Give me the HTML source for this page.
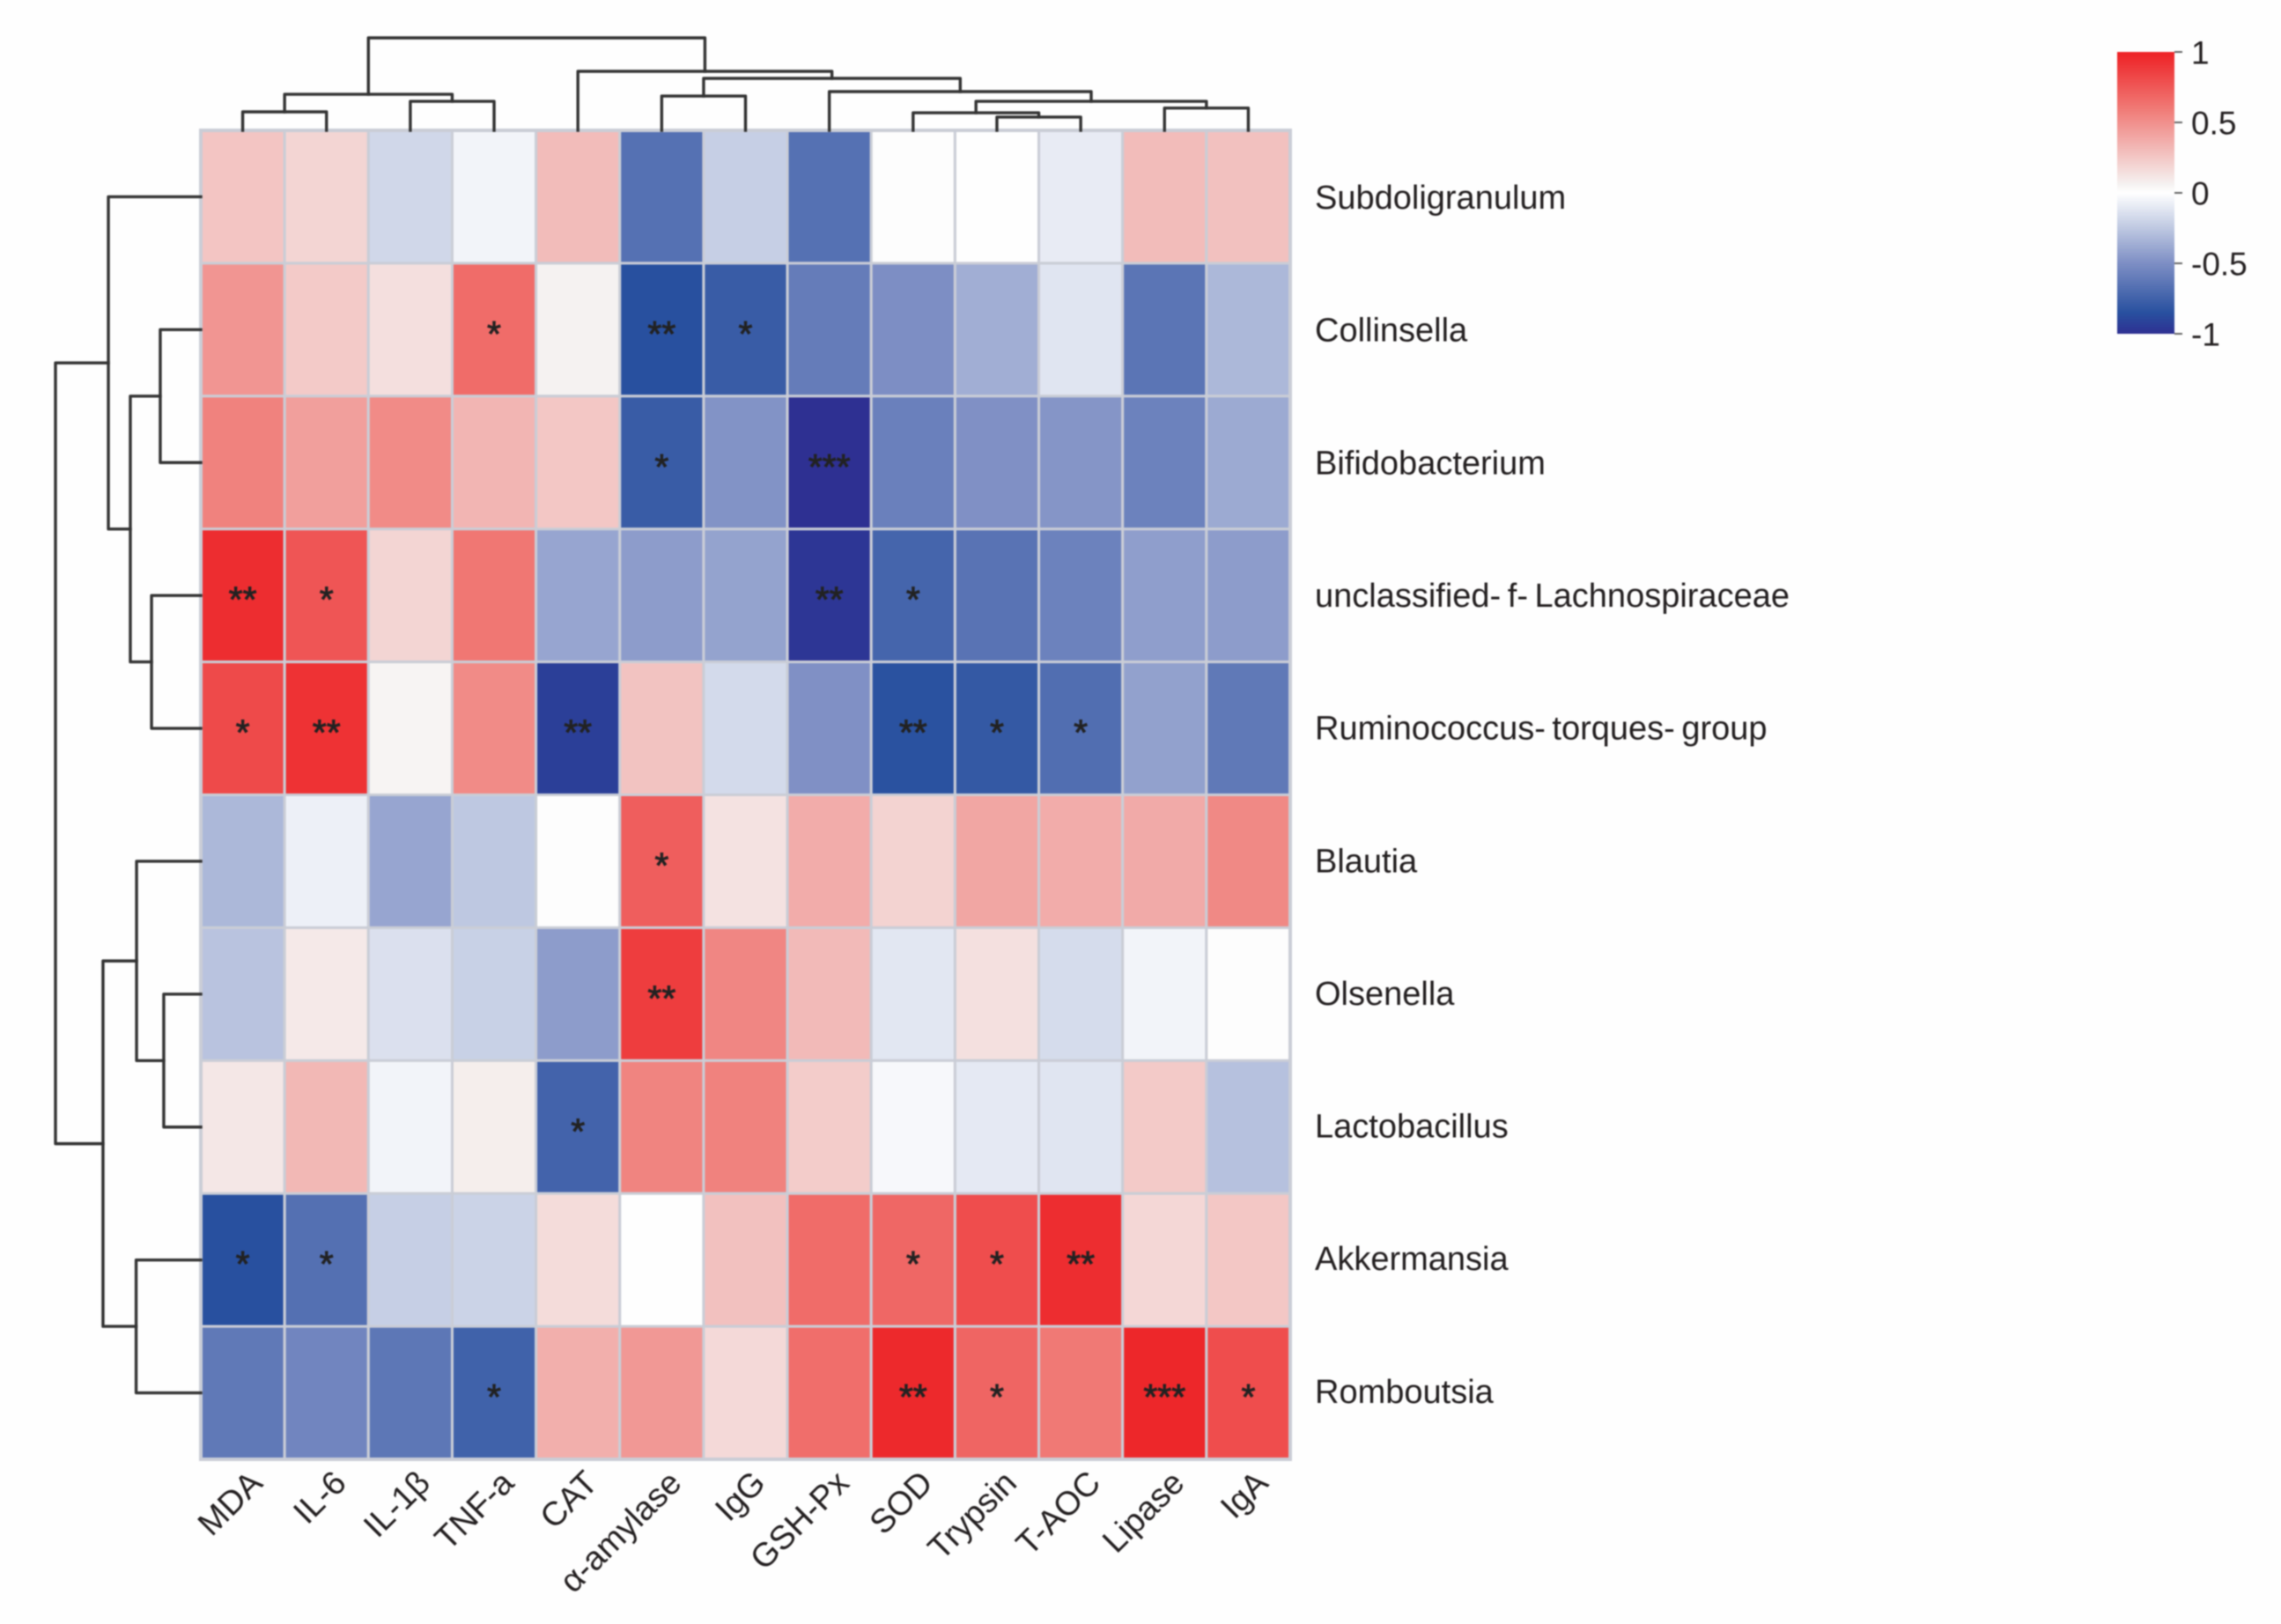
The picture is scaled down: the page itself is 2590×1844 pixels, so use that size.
<!DOCTYPE html>
<html lang="en">
<head>
<meta charset="utf-8">
<title>Correlation heatmap</title>
<style>
html,body{margin:0;padding:0;background:#fefefe;width:2590px;height:1844px;overflow:hidden}
svg{display:block;filter:blur(0.7px)}
text{font-family:"Liberation Sans",Arial,sans-serif;fill:#231f20}
</style>
</head>
<body>
<svg id="chart" xmlns="http://www.w3.org/2000/svg" width="2590" height="1844" viewBox="0 0 2590 1844">
<rect width="2590" height="1844" fill="#fefefe"/>
<defs><linearGradient id="cbGrad" x1="0" y1="1" x2="0" y2="0"></linearGradient></defs>
</svg>
<script>
const columns = ['MDA','IL-6','IL-1β','TNF-a','CAT','α-amylase','IgG','GSH-Px','SOD','Trypsin','T-AOC','Lipase','IgA'];
const rows = ['Subdoligranulum','Collinsella','Bifidobacterium','unclassified- f- Lachnospiraceae','Ruminococcus- torques- group','Blautia','Olsenella','Lactobacillus','Akkermansia','Romboutsia'];
const valuesSubdoligranulum = [.26,.19,-.18,-.05,.30,-.665,-.22,-.665,.01,.005,-.09,.30,.28];
const valuesCollinsella = [.475,.24,.145,.66,.06,-.85,-.78,-.6,-.5,-.36,-.12,-.64,-.32];
const valuesBifidobacterium = [.56,.43,.52,.33,.25,-.78,-.48,-1,-.58,-.49,-.47,-.57,-.38];
const valuesLachnospiraceae = [.94,.76,.19,.61,-.40,-.44,-.41,-.97,-.73,-.65,-.57,-.43,-.44];
const valuesRuminococcus = [.81,.92,.05,.52,-.93,.27,-.17,-.49,-.84,-.8,-.68,-.42,-.62];
const valuesBlautia = [-.32,-.07,-.40,-.25,.01,.72,.13,.37,.2,.4,.37,.38,.53];
const valuesOlsenella = [-.27,.10,-.14,-.21,-.44,.87,.54,.31,-.11,.14,-.16,-.05,.01];
const valuesLactobacillus = [.11,.32,-.05,.08,-.74,.55,.56,.23,-.03,-.1,-.12,.24,-.28];
const valuesAkkermansia = [-.85,-.67,-.22,-.2,.16,.005,.28,.66,.68,.8,.94,.18,.25];
const valuesRomboutsia = [-.62,-.55,-.63,-.75,.36,.46,.17,.65,.96,.69,.6,.97,.8];
const significance = [
  ['','','','','','','','','','','','',''],
  ['','','','*','','**','*','','','','','',''],
  ['','','','','','*','','***','','','','',''],
  ['**','*','','','','','','**','*','','','',''],
  ['*','**','','','**','','','','**','*','*','',''],
  ['','','','','','*','','','','','','',''],
  ['','','','','','**','','','','','','',''],
  ['','','','','*','','','','','','','',''],
  ['*','*','','','','','','','*','*','**','',''],
  ['','','','*','','','','','**','*','','***','*']
];
const topMerges = [[-1,-2,.20],[-3,-4,.314],[1,2,.39],[-6,-7,.371],[-10,-11,.143],[-9,5,.19],[-12,-13,.241],[6,7,.314],[-8,8,.419],[4,9,.562],[-5,10,.638],[3,11,1]];
const leftMerges = [[-2,-3,.279],[-4,-5,.339],[1,2,.485],[-1,3,.636],[-7,-8,.255],[-6,5,.442],[-9,-10,.445],[6,7,.673],[4,8,1]];
const legendTicks = [1,0.5,0,-0.5,-1];
const legendLabels = ['1','0.5','0','-0.5','-1'];
const matrix = [valuesSubdoligranulum,valuesCollinsella,valuesBifidobacterium,valuesLachnospiraceae,valuesRuminococcus,valuesBlautia,valuesOlsenella,valuesLactobacillus,valuesAkkermansia,valuesRomboutsia];

const NS = 'http://www.w3.org/2000/svg';
const svg = document.getElementById('chart');
const HM = {left:228, top:148, right:1465, bottom:1657};
const CB = {left:2404, right:2469, top:59, bottom:379};
const cellW = (HM.right-HM.left)/columns.length;
const cellH = (HM.bottom-HM.top)/rows.length;
const xCol = i => HM.left + cellW*(i+.5);
const yRow = i => HM.top + cellH*(i+.5);
const yLabel = i => 237 + i*150.65;
const topH = h => HM.top - h*105;
const leftH = h => HM.left - h*165;
const legendY = v => (CB.top+CB.bottom)/2 - v*(CB.bottom-CB.top)/2;
const ramp = [[-1,46,48,146],[-.85,40,80,159],[-.5,125,142,196],[-.25,190,200,225],[0,255,255,255],[.06,245,242,241],[.3,242,188,186],[.6,240,121,117],[1,237,32,36]];
function color(v){
  v = Math.max(-1,Math.min(1,v));
  for(let k=0;k<ramp.length-1;k++){
    const a=ramp[k], b=ramp[k+1];
    if(v<=b[0]){
      const t=(v-a[0])/(b[0]-a[0]);
      return 'rgb('+[1,2,3].map(c=>Math.round(a[c]+(b[c]-a[c])*t)).join(',')+')';
    }
  }
  return 'rgb(237,32,36)';
}
function mk(tag,attrs,parent){
  const el=document.createElementNS(NS,tag);
  for(const k in attrs) el.setAttribute(k,attrs[k]);
  (parent||svg).appendChild(el);
  return el;
}

const grid = mk('g',{});


matrix.forEach((vals,r)=>vals.forEach((v,c)=>{
  const cell = mk('rect',{x:xCol(c)-cellW/2,y:yRow(r)-cellH/2,width:cellW,height:cellH,fill:color(v),stroke:'#cacdd6','stroke-width':3},grid);
  
  
}));
const border = mk('rect',{x:HM.left,y:HM.top,width:HM.right-HM.left,height:HM.bottom-HM.top,fill:'none',stroke:'#cacdd6','stroke-width':4});



significance.forEach((line,r)=>line.forEach((s,c)=>{
  if(!s) return;
  const t = mk('text',{x:xCol(c),y:yRow(r)+18.5,'text-anchor':'middle','font-size':41,stroke:'#222','stroke-width':0.9});
  t.style.fill='#222';
  t.textContent=s;
  
  
}));

function dendro(merges,leafPos,heightPos,horizontalRoot,groupName){
  const g = mk('g',{fill:'none',stroke:'#333','stroke-width':3.4,'stroke-linejoin':'round','stroke-linecap':'square'});
  
  
  const nodes=[];
  const at=id=> id<0 ? {p:leafPos(-id-1),h:0} : nodes[id-1];
  merges.forEach(m=>{
    const a=at(m[0]), b=at(m[1]), hp=heightPos(m[2]);
    const ah=heightPos(a.h), bh=heightPos(b.h);
    const d = horizontalRoot
      ? 'M'+a.p+' '+ah+'V'+hp+'H'+b.p+'V'+bh
      : 'M'+ah+' '+a.p+'H'+hp+'V'+b.p+'H'+bh;
    const path = mk('path',{d:d},g);
    
    
    nodes.push({p:(a.p+b.p)/2,h:m[2]});
  });
}
dendro(topMerges,xCol,topH,true,'column-dendrogram');
dendro(leftMerges,yRow,leftH,false,'row-dendrogram');

rows.forEach((name,r)=>{
  const t = mk('text',{x:1493,y:yLabel(r),'font-size':38,'word-spacing':'-3px'});
  t.textContent=name;
  
  
});
columns.forEach((name,c)=>{
  const ax=xCol(c)+24.5, ay=1686;
  const t = mk('text',{x:ax,y:ay,'font-size':38,'text-anchor':'end',transform:'rotate(-45 '+ax+' '+ay+')'});
  t.textContent=name;
  
  
});

const grad = document.getElementById('cbGrad');
ramp.forEach(s=>{
  const st=document.createElementNS(NS,'stop');
  st.setAttribute('offset',(s[0]+1)/2);
  st.setAttribute('stop-color','rgb('+s[1]+','+s[2]+','+s[3]+')');
  grad.appendChild(st);
});
const bar = mk('rect',{x:CB.left,y:CB.top,width:CB.right-CB.left,height:CB.bottom-CB.top,fill:'url(#cbGrad)'});


legendTicks.forEach((v,i)=>{
  const y=legendY(v);
  const tick = mk('line',{x1:CB.right,x2:CB.right+9,y1:y,y2:y,stroke:'#666','stroke-width':2});
  
  
  const t = mk('text',{x:CB.right+19,y:y+13.5,'font-size':37});
  t.textContent=legendLabels[i];
  
  
});
</script>
</body>
</html>
